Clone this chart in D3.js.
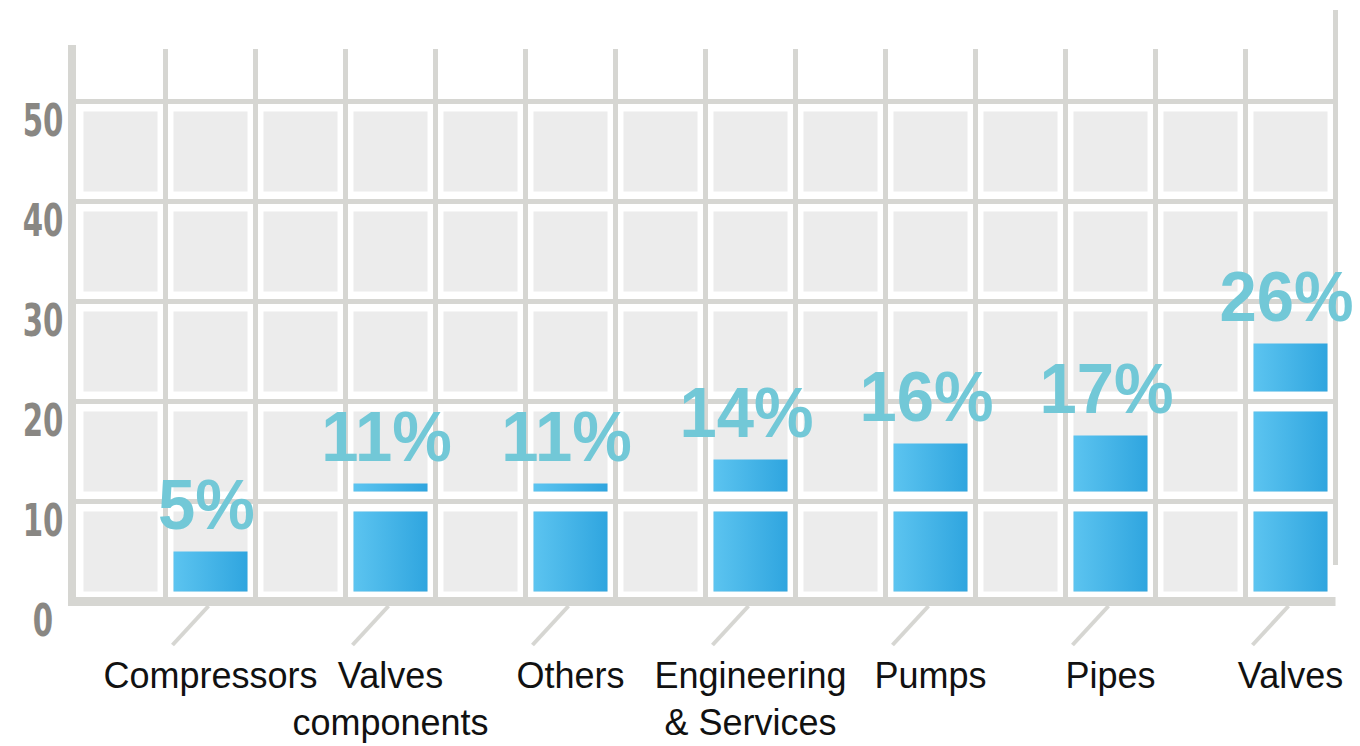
<!DOCTYPE html>
<html>
<head>
<meta charset="utf-8">
<script src="https://cdn.jsdelivr.net/npm/d3@7"></script>
<style>
  body { margin: 0; background: #fff; }
  svg { display: block; }
</style>
</head>
<body>
<svg id="canvas"></svg>
<script>
// chart data
const categories = [
  ['Compressors'],
  ['Valves', 'components'],
  ['Others'],
  ['Engineering', '& Services'],
  ['Pumps'],
  ['Pipes'],
  ['Valves']
];
const shares = [5, 11, 11, 14, 16, 17, 26];
const yTicks = [0, 10, 20, 30, 40, 50];

const width = 1360;
const height = 746;
const gridColor = '#d6d6d2';
const cellColor = '#ececec';

const canvas = d3.select('#canvas').attr('width', width).attr('height', height);

const left = 75.5;
const right = 1335.5;
const nCols = categories.length * 2;

const y = d3.scaleLinear().domain([0, 50]).range([601.5, 101.5]);
const col = d3.scaleLinear().domain([0, nCols]).range([left, right]);
const x = d3
  .scaleBand()
  .domain(d3.range(categories.length))
  .range([left, right]);

const pad = 8;    // horizontal inset of a cell inside its column
const vpad = 10;  // vertical inset of a cell inside its row

const defs = canvas.append('defs');
const grad = defs
  .append('linearGradient')
  .attr('id', 'barGrad')
  .attr('x1', '0%').attr('x2', '100%')
  .attr('y1', '0%').attr('y2', '0%');
grad.append('stop').attr('offset', '0%').attr('stop-color', '#5cc4f0');
grad.append('stop').attr('offset', '100%').attr('stop-color', '#2fa5df');

// rows between consecutive ticks
const rows = yTicks.slice(0, -1).map((lo, i) => ({ lo: lo, hi: yTicks[i + 1] }));

// background cells
const cells = [];
rows.forEach((r) => {
  d3.range(nCols).forEach((c) => cells.push({ row: r, c: c }));
});
canvas
  .append('g')
  .selectAll('rect')
  .data(cells)
  .enter()
  .append('rect')
  .attr('x', (d) => col(d.c) + pad)
  .attr('y', (d) => y(d.row.hi) + vpad)
  .attr('width', (d) => col(d.c + 1) - col(d.c) - 2 * pad)
  .attr('height', (d) => y(d.row.lo) - y(d.row.hi) - 2 * vpad)
  .attr('fill', cellColor);

// bars, split into one piece per row
const pieces = [];
shares.forEach((v, i) => {
  rows.forEach((r) => {
    if (v <= r.lo) return;
    const top = y(r.hi) + vpad;
    const bottom = y(r.lo) - vpad;
    const inRow = d3.scaleLinear().domain([r.lo, r.hi]).range([bottom, top]).clamp(true);
    pieces.push({ i: i, top: inRow(v), bottom: bottom });
  });
});
canvas
  .append('g')
  .selectAll('rect')
  .data(pieces)
  .enter()
  .append('rect')
  .attr('x', (d) => x(d.i) + x.bandwidth() / 2 + pad)
  .attr('y', (d) => d.top)
  .attr('width', x.bandwidth() / 2 - 2 * pad)
  .attr('height', (d) => d.bottom - d.top)
  .attr('fill', 'url(#barGrad)');

// grid lines
const grid = canvas.append('g').attr('stroke', gridColor);
grid
  .selectAll('line.v')
  .data(d3.range(1, nCols))
  .enter()
  .append('line')
  .attr('x1', (c) => col(c)).attr('x2', (c) => col(c))
  .attr('y1', 49).attr('y2', y(0))
  .attr('stroke-width', 5);
grid
  .selectAll('line.h')
  .data(yTicks.slice(1))
  .enter()
  .append('line')
  .attr('x1', 72).attr('x2', right + 2.5)
  .attr('y1', (t) => y(t)).attr('y2', (t) => y(t))
  .attr('stroke-width', 5);
// right edge line
grid.append('line')
  .attr('x1', right).attr('x2', right)
  .attr('y1', 10).attr('y2', 565)
  .attr('stroke-width', 5);
// axes
grid.append('line')
  .attr('x1', 72).attr('x2', 72)
  .attr('y1', 45).attr('y2', y(0) + 4.5)
  .attr('stroke-width', 8);
grid.append('line')
  .attr('x1', 68).attr('x2', right)
  .attr('y1', y(0)).attr('y2', y(0))
  .attr('stroke-width', 9);

// slanted ticks under each bar
grid
  .selectAll('line.t')
  .data(shares)
  .enter()
  .append('line')
  .attr('x1', (d, i) => x(i) + x.bandwidth() * 0.75 - 2)
  .attr('y1', y(0) + 4.5)
  .attr('x2', (d, i) => x(i) + x.bandwidth() * 0.75 - 38)
  .attr('y2', y(0) + 43.5)
  .attr('stroke-width', 4);

// y labels
canvas
  .append('g')
  .selectAll('text')
  .data(yTicks)
  .enter()
  .append('text')
  .attr('transform', (t) => `translate(43, ${y(t) + 34}) scale(0.74, 1)`)
  .attr('text-anchor', 'middle')
  .attr('font-family', 'DejaVu Sans Condensed, DejaVu Sans')
  .attr('font-weight', 'bold')
  .attr('font-size', '44px')
  .attr('fill', '#898783')
  .text((t) => t);

// value labels
canvas
  .append('g')
  .selectAll('text')
  .data(shares)
  .enter()
  .append('text')
  .attr('transform', (d, i) => {
    const top = pieces.filter((p) => p.i === i).reduce((m, p) => Math.min(m, p.top), Infinity);
    return `translate(${x(i) + x.bandwidth() * 0.75 - 4}, ${top - 23}) scale(1, 1.06)`;
  })
  .attr('text-anchor', 'middle')
  .attr('font-family', 'Liberation Sans, Arial, sans-serif')
  .attr('font-weight', 'bold')
  .attr('font-size', '67px')
  .attr('fill', '#72c8d7')
  .text((d) => d + '%');

// category labels
const cat = canvas
  .append('g')
  .selectAll('text')
  .data(categories)
  .enter()
  .append('text')
  .attr('x', (d, i) => x(i) + x.bandwidth() * 0.75)
  .attr('y', 688)
  .attr('text-anchor', 'middle')
  .attr('font-family', 'Liberation Sans, Arial, sans-serif')
  .attr('font-size', '36px')
  .attr('fill', '#111');
cat
  .selectAll('tspan')
  .data((d) => d)
  .enter()
  .append('tspan')
  .attr('x', function () { return this.parentNode.getAttribute('x'); })
  .attr('dy', (d, j) => (j === 0 ? 0 : 47))
  .text((d) => d);
</script>
</body>
</html>
